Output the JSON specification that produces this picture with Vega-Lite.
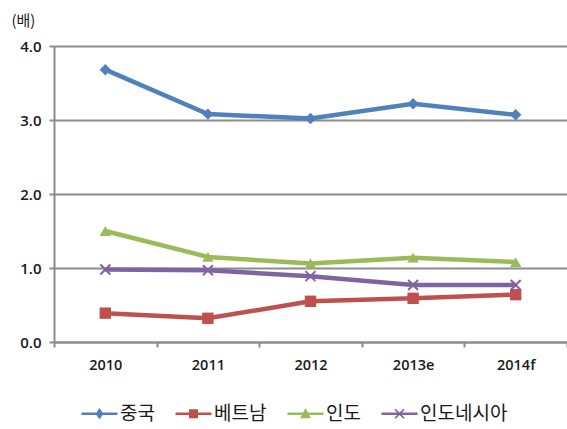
{
  "$schema": "https://vega.github.io/schema/vega-lite/v6.json",
  "autosize": "none",
  "width": 513,
  "height": 296,
  "padding": {"left": 54, "top": 46, "right": 0, "bottom": 87},
  "background": "white",
  "config": {
    "view": {"stroke": null},
    "font": "Noto Sans CJK KR"
  },
  "data": {
    "values": [
      {"year": "2010", "country": "중국", "value": 3.68},
      {"year": "2011", "country": "중국", "value": 3.08},
      {"year": "2012", "country": "중국", "value": 3.02},
      {"year": "2013e", "country": "중국", "value": 3.22},
      {"year": "2014f", "country": "중국", "value": 3.07},
      {"year": "2010", "country": "베트남", "value": 0.39},
      {"year": "2011", "country": "베트남", "value": 0.32},
      {"year": "2012", "country": "베트남", "value": 0.55},
      {"year": "2013e", "country": "베트남", "value": 0.59},
      {"year": "2014f", "country": "베트남", "value": 0.64},
      {"year": "2010", "country": "인도", "value": 1.5},
      {"year": "2011", "country": "인도", "value": 1.15},
      {"year": "2012", "country": "인도", "value": 1.06},
      {"year": "2013e", "country": "인도", "value": 1.14},
      {"year": "2014f", "country": "인도", "value": 1.08},
      {"year": "2010", "country": "인도네시아", "value": 0.98},
      {"year": "2011", "country": "인도네시아", "value": 0.97},
      {"year": "2012", "country": "인도네시아", "value": 0.89},
      {"year": "2013e", "country": "인도네시아", "value": 0.77},
      {"year": "2014f", "country": "인도네시아", "value": 0.77}
    ]
  },
  "encoding": {
    "x": {
      "field": "year", "type": "nominal", "sort": null,
      "scale": {"type": "band", "paddingInner": 0, "paddingOuter": 0},
      "axis": {
        "title": null, "labelAngle": 0, "tickBand": "extent",
        "domainColor": "#8c8c8c", "domainWidth": 2, "tickColor": "#8c8c8c", "tickSize": 5, "tickWidth": 2,
        "labelFont": "Open Sans", "labelFontWeight": 600, "labelFontSize": 14.5, "labelColor": "#1a1a1a", "labelPadding": 11, "grid": false
      }
    },
    "y": {
      "field": "value", "type": "quantitative",
      "scale": {"domain": [0, 4], "nice": false},
      "axis": {
        "values": [0, 1, 2, 3, 4], "format": ".1f",
        "title": "(배)", "titleAngle": 0, "titleAlign": "left", "titleBaseline": "alphabetic",
        "titleX": -43, "titleY": -21, "titleFontSize": 15, "titleFontWeight": "normal", "titleColor": "#1a1a1a",
        "grid": true, "gridColor": "#8c8c8c", "gridWidth": 2,
        "domainColor": "#8c8c8c", "domainWidth": 2, "tickColor": "#8c8c8c", "tickSize": 5, "tickWidth": 2,
        "labelFont": "Open Sans", "labelFontWeight": 600, "labelFontSize": 15, "labelColor": "#1a1a1a", "labelPadding": 8
      }
    },
    "color": {
      "field": "country", "type": "nominal", "sort": ["중국", "베트남", "인도", "인도네시아"],
      "scale": {"domain": ["중국", "베트남", "인도", "인도네시아"], "range": ["#4F81BD", "#C0504D", "#9BBB59", "#8064A2"]},
      "legend": {
        "title": null, "orient": "none", "direction": "horizontal", "columns": 4,
        "legendX": 36, "legendY": 358, "labelFontSize": 19, "labelColor": "#1a1a1a",
        "symbolSize": 144, "columnPadding": 20, "labelOffset": 11, "symbolStrokeWidth": 0,
        "symbolType": {"expr": "datum.value === '중국' ? 'M-3,-0.22H3V0.22H-3ZM0,-0.95L0.65,0L0,0.95L-0.65,0Z' : datum.value === '베트남' ? 'M-3,-0.22H3V0.22H-3ZM-0.75,-0.75H0.75V0.75H-0.75Z' : datum.value === '인도' ? 'M-3,-0.22H3V0.22H-3ZM0,-0.95L0.9,0.75L-0.9,0.75Z' : 'M-3,-0.2H3V0.2H-3ZM-0.85,-0.65L-0.65,-0.85L0,-0.2L0.65,-0.85L0.85,-0.65L0.2,0L0.85,0.65L0.65,0.85L0,0.2L-0.65,0.85L-0.85,0.65L-0.2,0Z'"}
      }
    }
  },
  "layer": [
    {"mark": {"type": "line", "strokeWidth": 4.5}},
    {"transform": [{"filter": "datum.country === '중국'"}], "mark": {"type": "point", "filled": true, "opacity": 1, "size": 130, "shape": "diamond"}},
    {"transform": [{"filter": "datum.country === '베트남'"}], "mark": {"type": "point", "filled": true, "opacity": 1, "size": 130, "shape": "square"}},
    {"transform": [{"filter": "datum.country === '인도'"}], "mark": {"type": "point", "filled": true, "opacity": 1, "size": 130, "shape": "triangle-up"}},
    {"transform": [{"filter": "datum.country === '인도네시아'"}], "mark": {"type": "point", "filled": true, "opacity": 1, "size": 130, "shape": "M-1,-0.75L-0.75,-1L0,-0.25L0.75,-1L1,-0.75L0.25,0L1,0.75L0.75,1L0,0.25L-0.75,1L-1,0.75L-0.25,0Z"}}
  ]
}
